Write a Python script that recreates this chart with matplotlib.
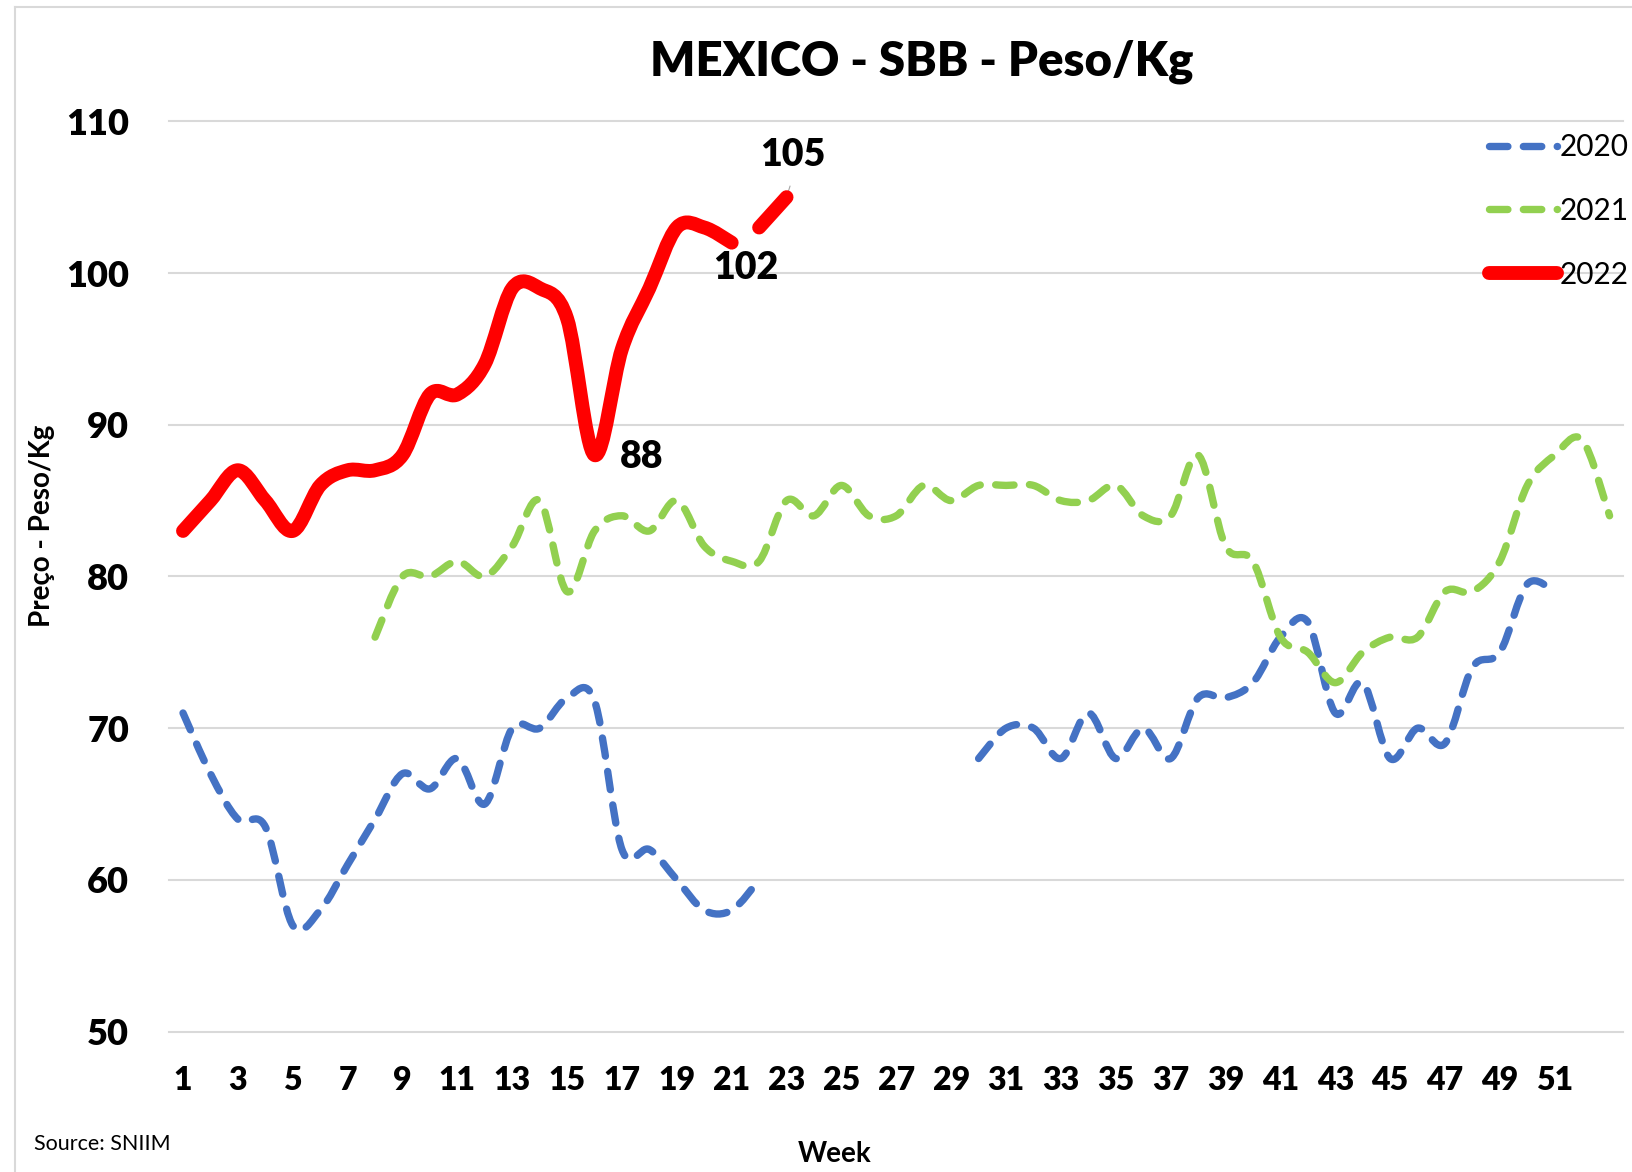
import numpy as np
import matplotlib
matplotlib.use("Agg")
import matplotlib.pyplot as plt
from matplotlib.path import Path
from matplotlib.patches import PathPatch
from matplotlib.lines import Line2D

nan = np.nan

# ---------------- data ----------------
weeks = list(range(1, 54))
tick_weeks = list(range(1, 52, 2))
series_names = ["2020", "2021", "2022"]

price_2020 = [71, 67, 64, 63.5, 57, 58, 61, 64, 67, 66, 68, 65, 70, 70, 72, 71.8,
              62, 62, 60, 58, 58, 60,
              nan, nan, nan, nan, nan, nan, nan,
              68, 70, 70, 68, 71, 68, 70, 68, 72, 72, 73, 76, 77, 71, 73, 68,
              70, 69, 74, 75, 79.5, 79,
              nan, nan]

price_2021 = [nan, nan, nan, nan, nan, nan, nan,
              76, 80, 80, 81, 80, 82, 85, 79, 83, 84, 83, 85, 82, 81, 81, 85,
              84, 86, 84, 84, 86, 85, 86, 86, 86, 85, 85, 86, 84, 84, 88, 82,
              81, 76, 75, 73, 75, 76, 76, 79, 79, 81, 86, 88, 89, 84]

price_2022 = [83, 85, 87, 85, 83, 86, 87, 87, 88, 92, 92, 94, 99, 99, 97, 88,
              95, 99, 103, 103, 102, 103, 105] + [nan] * 30

# the 2022 line is drawn without the segment between these two weeks
gap_2022 = (21, 22)

labels_2022 = {23: "105", 21: "102", 16: "88"}

title = "MEXICO - SBB - Peso/Kg"
ylabel = "Preço - Peso/Kg"
xlabel = "Week"
source = "Source: SNIIM"

# ---------------- style ----------------
FONT = ["Lato", "DejaVu Sans"]
plt.rcParams["font.family"] = FONT
C2020 = "#4472C4"
C2021 = "#92D050"
C2022 = "#FF0000"
GRID = "#D9D9D9"

W, H = 1633, 1172
fig = plt.figure(figsize=(W / 100, H / 100), dpi=100)
left, right = 169.3 / W, 1623.3 / W
top, bottom = 1 - 121.3 / H, 1 - 1031.6 / H
ax = fig.add_axes([left, bottom, right - left, top - bottom])
ax.set_xlim(0.5, 53.5)
ax.set_ylim(50, 110)


def smooth_path(xs, ys):
    pts = np.column_stack([xs, ys]).astype(float)
    n = len(pts)
    verts = [pts[0]]
    codes = [Path.MOVETO]
    for i in range(n - 1):
        p0 = pts[i - 1] if i > 0 else pts[i]
        p1 = pts[i]
        p2 = pts[i + 1]
        p3 = pts[i + 2] if i + 2 < n else pts[i + 1]
        c1 = p1 + (p2 - p0) / 6.0
        c2 = p2 - (p3 - p1) / 6.0
        verts += [c1, c2, p2]
        codes += [Path.CURVE4] * 3
    return Path(verts, codes)


def segments(xs, ys, breaks=()):
    segs, cx, cy = [], [], []
    for x, y in zip(xs, ys):
        if np.isnan(y) or (cx and (cx[-1], x) in breaks):
            if cx:
                segs.append((cx, cy))
            cx, cy = [], []
            if np.isnan(y):
                continue
        cx.append(x)
        cy.append(y)
    if cx:
        segs.append((cx, cy))
    return segs


dash = (0, (2.5, 2.1))
styles = {
    "2020": dict(color=C2020, lw=5.3, ls=dash),
    "2021": dict(color=C2021, lw=5.3, ls=dash),
    "2022": dict(color=C2022, lw=10.0, ls="-"),
}
data = {"2020": price_2020, "2021": price_2021, "2022": price_2022}

for name in series_names:
    st = styles[name]
    brk = [gap_2022] if name == "2022" else []
    for sx, sy in segments(weeks, data[name], brk):
        patch = PathPatch(smooth_path(sx, sy), fill=False, edgecolor=st["color"],
                          lw=st["lw"], linestyle=st["ls"], capstyle="round",
                          joinstyle="round", transform=ax.transData, zorder=3)
        ax.add_patch(patch)

# data labels for 2022
offsets = {23: (4.7, 30.7), 21: (10.3, -18.4), 16: (34.2, -1.5)}
for wk, txt in labels_2022.items():
    val = price_2022[wk - 1]
    ax.annotate(txt, xy=(wk, val), xytext=offsets[wk], textcoords="offset points",
                ha="center", va="center", fontsize=27, weight="heavy",
                color="black", zorder=5)
# small leader line for the 105 label
ax.annotate("", xy=(23, price_2022[22]), xytext=(2.5, 8), textcoords="offset points",
            arrowprops=dict(arrowstyle="-", color="#A6A6A6", lw=0.8,
                            shrinkA=0, shrinkB=0), zorder=2)

# axes cosmetics
for sp in ax.spines.values():
    sp.set_visible(False)
ax.set_yticks(range(50, 111, 10))
ax.set_xticks(tick_weeks)
ax.set_xticklabels([str(w) for w in tick_weeks])
ax.tick_params(axis="both", length=0)
ax.tick_params(axis="y", pad=29, labelsize=26)
ax.tick_params(axis="x", pad=25, labelsize=23)
for lab in ax.get_yticklabels() + ax.get_xticklabels():
    lab.set_fontweight("heavy")
ax.yaxis.grid(True, color=GRID, lw=1.5, zorder=0)
ax.set_axisbelow(True)
for gl in ax.get_ygridlines():
    gl.set_clip_on(False)

# legend
handles = [Line2D([], [], color=styles[n]["color"], lw=styles[n]["lw"],
                  ls=styles[n]["ls"], dash_capstyle="round",
                  solid_capstyle="round") for n in series_names]
leg = fig.legend(handles, series_names, loc="upper right",
                 bbox_to_anchor=(1629 / W, 1 - 133 / H), bbox_transform=fig.transFigure,
                 frameon=False, fontsize=21.5, handlelength=2.3, handletextpad=0.08,
                 labelspacing=1.2, borderpad=0, borderaxespad=0)

# texts
fig.text(922 / W, 1 - 62 / H, title, ha="center", va="center",
         fontsize=34, fontweight="heavy")
fig.text(42 / W, 1 - 526 / H, ylabel, ha="center", va="center", rotation=90,
         fontsize=20, fontweight="bold")
fig.text(835 / W, 1 - 1154 / H, xlabel, ha="center", va="center",
         fontsize=20, fontweight="bold")
fig.text(34 / W, 1 - 1144 / H, source, ha="left", va="center", fontsize=15.5)

# outer chart border (left and top visible)
fig.add_artist(Line2D([15 / W, 15 / W], [0, 1 - 7 / H], transform=fig.transFigure,
                      color=GRID, lw=1.5))
fig.add_artist(Line2D([15 / W, 1], [1 - 7 / H, 1 - 7 / H], transform=fig.transFigure,
                      color=GRID, lw=1.5))

fig.savefig("out.png", dpi=100, facecolor="white")
